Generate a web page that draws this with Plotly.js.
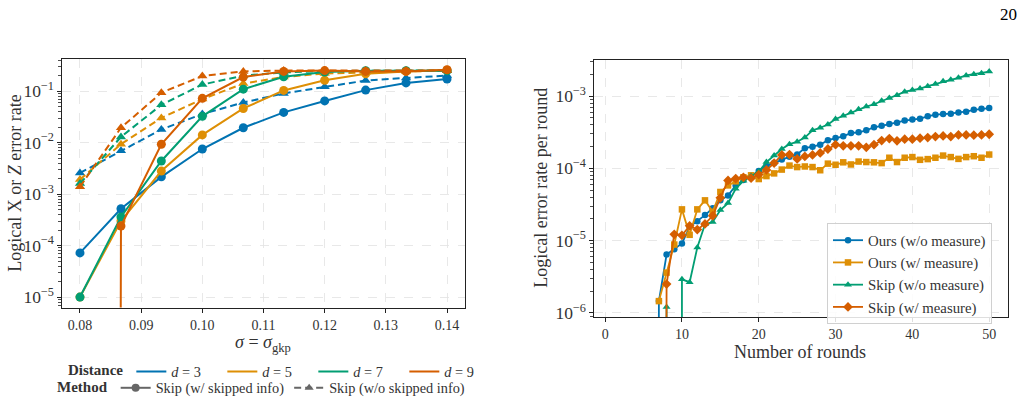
<!DOCTYPE html>
<html>
<head>
<meta charset="utf-8">
<script src="https://cdn.plot.ly/plotly-3.0.1.min.js"></script>
<style>
  html, body { margin: 0; padding: 0; background: #ffffff; }
  #chart { width: 1022px; height: 404px; }
  #chart svg text { font-family: 'Liberation Serif', 'Times New Roman', serif !important; }
</style>
</head>
<body>
<div id="chart"></div>
<script>
// ---------------- Data: left panel (logical error rate vs sigma) ----------------
const sigma = [0.08, 0.0867, 0.0933, 0.1, 0.1067, 0.1133, 0.12, 0.1267, 0.1333, 0.14];
const distanceLabels = ['<i>d</i> = 3', '<i>d</i> = 5', '<i>d</i> = 7', '<i>d</i> = 9'];

// Skip (w/ skipped info) -- solid, circles
const withInfo_d3 = [7.2e-5, 5.2e-4, 2.16e-3, 7.5e-3, 0.0194, 0.0386, 0.0644, 0.1045, 0.144, 0.172];
const withInfo_d5 = [1.0e-5, 3.0e-4, 2.8e-3, 0.0141, 0.046, 0.103, 0.162, 0.217, 0.241, 0.255];
const withInfo_d7 = [1.0e-5, 3.6e-4, 4.4e-3, 0.0324, 0.109, 0.19, 0.234, 0.248, 0.248, 0.248];
const withInfo_d9 = [0, 2.4e-4, 9.3e-3, 0.0724, 0.187, 0.241, 0.25, 0.241, 0.241, 0.26];

// Skip (w/o skipped info) -- dashed, triangles
const noInfo_d3 = [2.57e-3, 6.97e-3, 0.018, 0.0359, 0.0599, 0.0902, 0.121, 0.16, 0.18, 0.20];
const noInfo_d5 = [1.92e-3, 9.3e-3, 0.0301, 0.070, 0.14, 0.188, 0.22, 0.23, 0.24, 0.25];
const noInfo_d7 = [1.6e-3, 0.0129, 0.054, 0.134, 0.2, 0.23, 0.245, 0.25, 0.25, 0.25];
const noInfo_d9 = [1.39e-3, 0.0194, 0.093, 0.196, 0.241, 0.25, 0.25, 0.25, 0.25, 0.25];

const methodLabels = ['Skip (w/ skipped info)', 'Skip (w/o skipped info)'];

// ---------------- Data: right panel (logical error rate per round) ----------------
const rounds = [1,2,3,4,5,6,7,8,9,10,11,12,13,14,15,16,17,18,19,20,21,22,23,24,25,
                26,27,28,29,30,31,32,33,34,35,36,37,38,39,40,41,42,43,44,45,46,47,48,49,50];
const seriesNames = ['Ours (w/o measure)', 'Ours (w/ measure)', 'Skip (w/o measure)', 'Skip (w/ measure)'];

const oursNoMeasure = [0,0,0,0,0,0,1.45e-6,6.4e-6,7.6e-6,9.1e-6,1.55e-5,1.85e-5,2.25e-5,2.8e-5,3.6e-5,
  4.2e-5,5.8e-5,6.9e-5,7.8e-5,9.2e-5,1.08e-4,1.18e-4,1.32e-4,1.45e-4,1.55e-4,1.9e-4,1.99e-4,2.12e-4,
  2.45e-4,2.62e-4,2.77e-4,3.08e-4,3.15e-4,3.35e-4,3.7e-4,3.87e-4,4.1e-4,4.26e-4,4.58e-4,4.72e-4,
  4.87e-4,5.24e-4,5.52e-4,5.63e-4,5.7e-4,5.94e-4,6.07e-4,6.46e-4,6.67e-4,6.81e-4];
const oursMeasure = [null,null,null,null,null,null,1.45e-6,3.6e-6,8.8e-6,2.7e-5,1.2e-5,2.7e-5,3.6e-5,2.5e-5,
  4.7e-5,5.8e-5,6.6e-5,7.5e-5,8.0e-5,7.1e-5,7.8e-5,8.5e-5,9.6e-5,1.09e-4,1.04e-4,1.06e-4,1.04e-4,9.4e-5,
  1.16e-4,1.12e-4,1.21e-4,1.13e-4,1.24e-4,1.22e-4,1.21e-4,1.18e-4,1.40e-4,1.22e-4,1.40e-4,1.43e-4,
  1.31e-4,1.34e-4,1.40e-4,1.50e-4,1.43e-4,1.35e-4,1.43e-4,1.47e-4,1.40e-4,1.55e-4];
const skipNoMeasure = [0,0,0,0,0,0,0,1.2e-6,0,2.9e-6,2.65e-6,8.0e-6,1.68e-5,1.8e-5,2.65e-5,3.3e-5,5.2e-5,
  6.7e-5,7.8e-5,9.0e-5,1.22e-4,1.5e-4,1.85e-4,2.16e-4,2.33e-4,2.66e-4,3.35e-4,3.64e-4,4.04e-4,4.82e-4,
  5.35e-4,5.94e-4,6.59e-4,7.16e-4,7.7e-4,8.6e-4,9.4e-4,1.03e-3,1.15e-3,1.21e-3,1.27e-3,1.37e-3,1.47e-3,
  1.6e-3,1.68e-3,1.79e-3,1.93e-3,2.01e-3,2.07e-3,2.18e-3];
const skipMeasure = [0,0,0,0,0,0,0,2.5e-6,1.22e-5,1.18e-5,1.6e-5,1.42e-5,1.7e-5,2.2e-5,3.9e-5,6.8e-5,
  7.2e-5,7.5e-5,7.3e-5,8.2e-5,9.5e-5,1.18e-4,1.53e-4,1.55e-4,1.35e-4,1.46e-4,1.53e-4,1.63e-4,1.85e-4,
  2.12e-4,2.05e-4,2.05e-4,2.05e-4,1.95e-4,2.12e-4,2.42e-4,2.58e-4,2.40e-4,2.53e-4,2.53e-4,2.61e-4,
  2.66e-4,2.75e-4,2.81e-4,2.75e-4,2.9e-4,2.9e-4,2.87e-4,2.9e-4,2.96e-4];

// ---------------- Styling ----------------
const colors = ['#0173b2', '#de8f05', '#029e73', '#d55e00'];
const FONT = 'Liberation Serif';
const TXT = '#333333';

// Non-positive values on a log axis are clipped to a tiny positive floor (as matplotlib does)
const LOG_FLOOR = 1e-300;
const clipLog = arr => arr.map(v => (v === 0 ? LOG_FLOOR : v));

const traces = [];
const withInfo = [withInfo_d3, withInfo_d5, withInfo_d7, withInfo_d9];
const noInfo = [noInfo_d3, noInfo_d5, noInfo_d7, noInfo_d9];

for (let i = 0; i < 4; i++) {
  traces.push({
    x: sigma, y: clipLog(withInfo[i]), xaxis: 'x', yaxis: 'y',
    mode: 'lines+markers', showlegend: false, hoverinfo: 'skip',
    line: { color: colors[i], width: 2 },
    marker: { symbol: 'circle', size: 9, color: colors[i] }
  });
  traces.push({
    x: sigma, y: clipLog(noInfo[i]), xaxis: 'x', yaxis: 'y',
    mode: 'lines+markers', showlegend: false, hoverinfo: 'skip',
    line: { color: colors[i], width: 2, dash: '7px,4px' },
    marker: { symbol: 'triangle-up', size: 9, color: colors[i] }
  });
}
// legend entries: Distance
for (let i = 0; i < 4; i++) {
  traces.push({
    x: [null], y: [null], xaxis: 'x', yaxis: 'y', mode: 'lines',
    name: distanceLabels[i], legend: 'legend',
    line: { color: colors[i], width: 2 }
  });
}
// legend entries: Method
traces.push({
  x: [null], y: [null], xaxis: 'x', yaxis: 'y', mode: 'lines+markers',
  name: methodLabels[0], legend: 'legend2',
  line: { color: '#666666', width: 2 }, marker: { symbol: 'circle', size: 8, color: '#666666' }
});
traces.push({
  x: [null], y: [null], xaxis: 'x', yaxis: 'y', mode: 'lines+markers',
  name: methodLabels[1], legend: 'legend2',
  line: { color: '#666666', width: 2, dash: '7px,4px' }, marker: { symbol: 'triangle-up', size: 8, color: '#666666' }
});

// right panel
const rightSeries = [oursNoMeasure, oursMeasure, skipNoMeasure, skipMeasure];
const rightSymbols = ['circle', 'square', 'triangle-up', 'diamond'];
const rightSizes = [6.5, 6.5, 7, 7.5];
for (let i = 0; i < 4; i++) {
  traces.push({
    x: rounds, y: clipLog(rightSeries[i]), xaxis: 'x2', yaxis: 'y2',
    mode: 'lines+markers', name: seriesNames[i], legend: 'legend3', hoverinfo: 'skip',
    line: { color: colors[i], width: 1.8 },
    marker: { symbol: rightSymbols[i], size: rightSizes[i], color: colors[i] }
  });
}

const axBase = {
  showline: true, linecolor: '#222222', linewidth: 1.2, mirror: true,
  ticks: 'outside', ticklen: 4, tickwidth: 1, tickcolor: '#222222',
  showgrid: true, gridcolor: '#e2e2e2', griddash: 'dash', gridwidth: 0.8,
  zeroline: false, tickfont: { family: FONT, size: 14, color: TXT }
};
const logMinor = { ticks: 'outside', ticklen: 2.5, tickcolor: '#222222', tickwidth: 0.8, showgrid: false };

const layout = {
  width: 1022, height: 404,
  margin: { l: 0, r: 0, t: 0, b: 0 },
  paper_bgcolor: '#ffffff', plot_bgcolor: '#ffffff',
  font: { family: FONT, color: TXT, size: 14 },
  xaxis: Object.assign({}, axBase, {
    domain: [62 / 1022, 465 / 1022], anchor: 'y',
    range: [0.07706, 0.14294], tick0: 0.08, dtick: 0.01, tickformat: '.2f'
  }),
  yaxis: Object.assign({}, axBase, {
    domain: [(404 - 313) / 404, (404 - 60) / 404], anchor: 'x',
    type: 'log', range: [-5.204, -0.376], dtick: 1, exponentformat: 'power',
    minor: logMinor
  }),
  xaxis2: Object.assign({}, axBase, {
    domain: [594 / 1022, 1008 / 1022], anchor: 'y2',
    range: [-1.45, 52.45], tick0: 0, dtick: 10
  }),
  yaxis2: Object.assign({}, axBase, {
    domain: [(404 - 322.7) / 404, (404 - 61) / 404], anchor: 'x2',
    type: 'log', range: [-6.06, -2.50], dtick: 1, exponentformat: 'power',
    minor: logMinor
  }),
  legend: {
    orientation: 'h', x: 66 / 1022, y: 1 - 362 / 404, xanchor: 'left', yanchor: 'top',
    title: { text: '<b>Distance</b>', side: 'left', font: { family: FONT, size: 15, color: TXT } },
    font: { family: FONT, size: 14.3, color: TXT }, bgcolor: 'rgba(0,0,0,0)',
    entrywidth: 46, entrywidthmode: 'pixels'
  },
  legend2: {
    orientation: 'h', x: 55 / 1022, y: 1 - 379 / 404, xanchor: 'left', yanchor: 'top',
    title: { text: '<b>Method</b>', side: 'left', font: { family: FONT, size: 15, color: TXT } },
    font: { family: FONT, size: 14.3, color: TXT }, bgcolor: 'rgba(0,0,0,0)'
  },
  legend3: {
    x: 827 / 1022, y: 1 - 227 / 404, xanchor: 'left', yanchor: 'top',
    font: { family: FONT, size: 14.8, color: TXT },
    bgcolor: 'rgba(255,255,255,0.85)', bordercolor: '#d0d0d0', borderwidth: 1
  },
  annotations: [
    { text: 'Logical X or <i>Z</i> error rate', xref: 'paper', yref: 'paper',
      x: 15 / 1022, y: 1 - 187 / 404, textangle: -90, showarrow: false,
      font: { family: FONT, size: 18, color: TXT }, xanchor: 'center', yanchor: 'middle' },
    { text: '<i>σ</i> = <i>σ</i><sub>gkp</sub>', xref: 'paper', yref: 'paper',
      x: 263 / 1022, y: 1 - 336 / 404, showarrow: false,
      font: { family: FONT, size: 18, color: TXT }, xanchor: 'center', yanchor: 'top' },
    { text: 'Logical error rate per round', xref: 'paper', yref: 'paper',
      x: 541 / 1022, y: 1 - 191 / 404, textangle: -90, showarrow: false,
      font: { family: FONT, size: 18, color: TXT }, xanchor: 'center', yanchor: 'middle' },
    { text: 'Number of rounds', xref: 'paper', yref: 'paper',
      x: 800 / 1022, y: 1 - 358 / 404, showarrow: false,
      font: { family: FONT, size: 18, color: TXT }, xanchor: 'center', yanchor: 'middle' },
    { text: '20', xref: 'paper', yref: 'paper',
      x: 1008 / 1022, y: 1 - 15 / 404, showarrow: false,
      font: { family: FONT, size: 17, color: '#000000' }, xanchor: 'center', yanchor: 'middle' }
  ]
};

Plotly.newPlot('chart', traces, layout, { staticPlot: true, displayModeBar: false });
</script>
</body>
</html>
